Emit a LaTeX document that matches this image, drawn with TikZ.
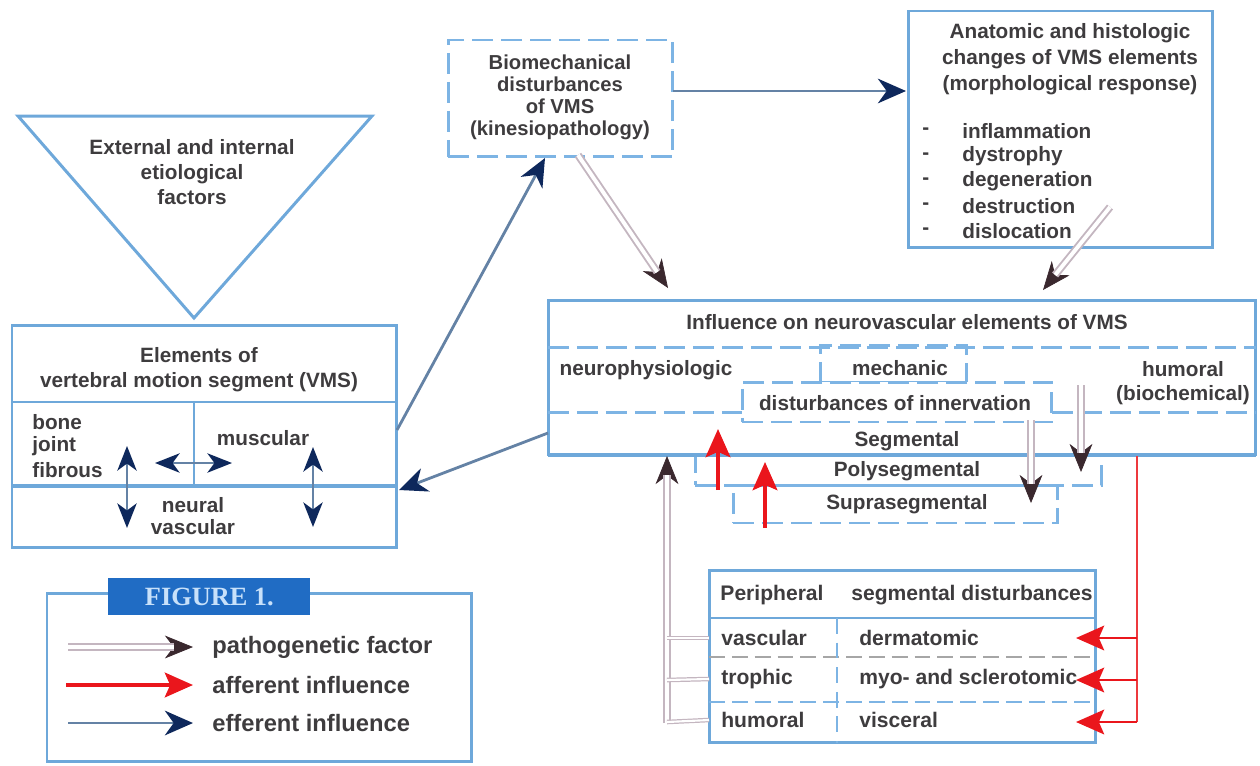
\documentclass[tikz,border=0pt]{standalone}
\usepackage{fontspec}
\setmainfont{Liberation Sans}
\newfontfamily\figserif{Liberation Serif}
\usetikzlibrary{arrows.meta}
\definecolor{boxblue}{RGB}{110,168,218}
\definecolor{dashblue}{RGB}{125,180,228}
\definecolor{txtgray}{RGB}{62,60,62}
\definecolor{effshaft}{RGB}{100,130,165}
\definecolor{navyhead}{RGB}{14,40,92}
\definecolor{affred}{RGB}{234,22,28}
\definecolor{pathline}{RGB}{196,182,192}
\definecolor{pathhead}{RGB}{58,40,46}
\definecolor{figblue}{RGB}{32,108,196}
\definecolor{figtext}{RGB}{200,225,250}
\newcommand\patharrow[2]{\draw[pathtip] (#1) -- (#2); \draw[pathshaft] (#1) -- (#2);}
\begin{document}
\begin{tikzpicture}[x=0.02cm,y=-0.02cm,
  every node/.style={text=txtgray},
  font=\fontsize{11.8}{14}\selectfont\bfseries,
  boxnode/.style={draw=boxblue,line width=1.7pt,anchor=north west,inner sep=0pt,outer sep=0pt},
  dashnode/.style={draw=dashblue,line width=1.7pt,dash pattern=on 12pt off 4.5pt,anchor=north west,inner sep=0pt,outer sep=0pt},
  solidline/.style={draw=boxblue,line width=1.7pt},
  dashline/.style={draw=dashblue,line width=1.7pt,dash pattern=on 12pt off 4.5pt},
  lbl/.style={inner sep=0pt,align=center},
  lleft/.style={inner sep=0pt,anchor=west},
  eff/.style={draw=effshaft,line width=1.6pt,-{Stealth[length=16pt,width=14pt,inset=5pt,color=navyhead]}},
  effboth/.style={draw=effshaft,line width=1.3pt,{Stealth[length=14pt,width=11pt,inset=4pt,color=navyhead]}-{Stealth[length=14pt,width=11pt,inset=4pt,color=navyhead]}},
  aff/.style={draw=affred,line width=2.3pt,-{Stealth[length=16pt,width=14pt,inset=3pt,color=affred]}},
  affline/.style={draw=affred!85,line width=1.6pt},
  pathshaft/.style={draw=pathline,line width=1.1pt,double=white,double distance=2.2pt,shorten >=11pt},
  pathtip/.style={draw=pathhead,line width=0.4pt,-{Stealth[length=16pt,width=13pt,inset=5pt,color=pathhead]}},
  pathbranch/.style={draw=pathline,line width=0.7pt,double=white,double distance=1.2pt},
]
\useasboundingbox (0,0) rectangle (1260,765);

% ---------- triangle: etiological factors
\coordinate (triL) at (18,116);
\coordinate (triR) at (372,116);
\coordinate (triA) at (194,318);
\draw[solidline,line join=miter] (triL) -- (triR) -- (triA) -- cycle;
\node[lbl,font=\fontsize{11.8}{14}\selectfont\bfseries] (etio) at (192,172) {External and internal\\etiological\\factors};

% ---------- VMS box
\node[boxnode,minimum width=7.7cm,minimum height=4.46cm] (vms) at (12,325) {};
\draw[solidline,line width=1.3pt] (12,402) -- (397,402);
\draw[solidline,line width=2pt] (12,486) -- (397,486);
\draw[solidline,line width=1.3pt] (194,402) -- (194,486);
\node[lbl,font=\fontsize{11.8}{14.2}\selectfont\bfseries] (vmstitle) at (199,370) {Elements of\\vertebral motion segment (VMS)};
\node[lleft] (bone) at (32,422) {bone};
\node[lleft] (joint) at (32,446) {joint};
\node[lleft] (fibrous) at (32,470) {fibrous};
\node[lbl] (muscular) at (263,438) {muscular};
\node[lbl,font=\fontsize{11.8}{13}\selectfont\bfseries] (neural) at (193,516) {neural\\vascular};
\coordinate (dvL1) at (127,446); \coordinate (dvL2) at (127,528);
\coordinate (dhL) at (155,463); \coordinate (dhR) at (232,463);
\coordinate (dvR1) at (313,447); \coordinate (dvR2) at (313,527);
\draw[effboth] (dvL1) -- (dvL2);
\draw[effboth] (dhL) -- (dhR);
\draw[effboth] (dvR1) -- (dvR2);

% ---------- Biomechanical box
\node[dashnode,minimum width=4.5cm,minimum height=2.34cm] (bio) at (448,40) {};
\node[lbl,font=\fontsize{11.5}{12.5}\selectfont\bfseries] (biotext) at (560,97) {Biomechanical\\disturbances\\of VMS\\(kinesiopathology)};

% ---------- Anatomic box
\node[boxnode,minimum width=6.1cm,minimum height=4.74cm] (ana) at (908,11) {};
\node[lbl,font=\fontsize{11.8}{14.7}\selectfont\bfseries] (anatitle) at (1070,59) {Anatomic and histologic\\changes of VMS elements\\(morphological response)};
\foreach \t/\yy [count=\i] in {inflammation/131,dystrophy/156,degeneration/181,destruction/206,dislocation/231}{
  \node[lleft] (dash\i) at (922,\yy) {-};
  \node[lleft] (item\i) at (962,\yy) {\t};
}

% ---------- Influence box
\node[boxnode,minimum width=14.16cm,minimum height=3.1cm] (inf) at (548,300) {};
\node[lbl] (inftitle) at (907,322) {Influence on neurovascular elements of VMS};
\draw[dashline] (548,347) -- (1256,347);
\draw[dashline] (548,412) -- (742,412);
\draw[dashline] (1052,412) -- (1256,412);
\node[dashnode,minimum width=2.94cm,minimum height=0.74cm] (mech) at (820,345) {};
\node[dashnode,minimum width=6.2cm,minimum height=0.8cm,fill=white] (dist) at (742,382) {};
\node[lbl] (neuro) at (646,370) {neurophysiologic};
\node[lbl] (mechanic) at (900,368) {mechanic};
\node[lbl,font=\fontsize{11.8}{13.5}\selectfont\bfseries] (humoral) at (1183,383) {humoral\\(biochemical)};
\node[lbl] (disttext) at (895,403) {disturbances of innervation};
\node[lbl] (segm) at (907,441) {Segmental};
\node[dashnode,minimum width=8.14cm,minimum height=0.6cm] (poly) at (695,455) {};
\node[lbl] (polytext) at (907,471) {Polysegmental};
\node[dashnode,minimum width=6.5cm,minimum height=0.76cm] (supra) at (733,485) {};
\node[lbl] (supratext) at (907,504) {Suprasegmental};
\draw[solidline] (548,455) -- (1256,455);

% ---------- Table of peripheral segmental disturbances
\node[boxnode,minimum width=7.74cm,minimum height=3.46cm] (tab) at (709,570) {};
\draw[solidline,line width=1.5pt] (709,618) -- (1096,618);
\draw[draw=gray!70,line width=1.5pt,dash pattern=on 9pt off 4pt] (709,657) -- (1096,657);
\draw[dashline,line width=1.5pt,dash pattern=on 9pt off 4pt] (709,702) -- (1096,702);
\draw[dashline,line width=1.3pt,dash pattern=on 9pt off 5pt] (837,618) -- (837,743);
\node[lbl,font=\fontsize{12}{14}\selectfont\bfseries] (periph) at (772,595) {Peripheral};
\node[lbl,font=\fontsize{12}{14}\selectfont\bfseries] (segdist) at (972,595) {segmental disturbances};
\node[lleft,font=\fontsize{12}{14}\selectfont\bfseries] (r1a) at (721,638) {vascular};
\node[lleft,font=\fontsize{12}{14}\selectfont\bfseries] (r1b) at (859,638) {dermatomic};
\node[lleft,font=\fontsize{12}{14}\selectfont\bfseries] (r2a) at (721,679) {trophic};
\node[lleft,font=\fontsize{12}{14}\selectfont\bfseries] (r2b) at (859,679) {myo- and sclerotomic};
\node[lleft,font=\fontsize{12}{14}\selectfont\bfseries] (r3a) at (721,720) {humoral};
\node[lleft,font=\fontsize{12}{14}\selectfont\bfseries] (r3b) at (859,720) {visceral};

% ---------- efferent arrows between blocks
\coordinate (vmsOut) at (397,430);
\coordinate (bioIn) at (545,158);
\coordinate (bioOut) at (673,91);
\coordinate (anaIn) at (906,91);
\coordinate (infOut) at (548,433);
\coordinate (vmsIn) at (399,490);
\draw[eff] (vmsOut) -- (bioIn);
\draw[eff] (bioOut) -- (anaIn);
\draw[eff] (infOut) -- (vmsIn);

% ---------- pathogenetic arrows
\coordinate (bioP) at (578,155);
\coordinate (infP1) at (668,288);
\coordinate (anaP) at (1110,207);
\coordinate (infP2) at (1043,290);
\coordinate (pd1s) at (1031,420); \coordinate (pd1e) at (1031,503);
\coordinate (pd2s) at (1081,385); \coordinate (pd2e) at (1081,472);
\coordinate (pus) at (667,723); \coordinate (pue) at (667,456);
\patharrow{bioP}{infP1}
\patharrow{anaP}{infP2}
\patharrow{pd1s}{pd1e}
\patharrow{pd2s}{pd2e}
\patharrow{pus}{pue}
\coordinate (br1) at (667,638); \coordinate (br2) at (667,680); \coordinate (br3) at (667,722);
\draw[pathbranch] (br1) -- (r1a.west -| tab.west);
\draw[pathbranch] (br2) -- (r2a.west -| tab.west);
\draw[pathbranch] (br3) -- (r3a.west -| tab.west);

% ---------- afferent arrows
\coordinate (a1s) at (718,490); \coordinate (a1e) at (718,429);
\coordinate (a2s) at (765,528); \coordinate (a2e) at (765,462);
\draw[aff] (a1s) -- (a1e);
\draw[aff] (a2s) -- (a2e);
\coordinate (redTop) at (1137,456);
\coordinate (redJ1) at (1137,638); \coordinate (redJ2) at (1137,680);
\coordinate (t1) at (1076,638); \coordinate (t2) at (1076,680); \coordinate (t3) at (1076,722);
\draw[affline] (redTop) -- (1137,722);
\draw[aff,line width=1.6pt] (redJ1) -- (t1);
\draw[aff,line width=1.6pt] (redJ2) -- (t2);
\draw[aff,line width=1.6pt] (1137,722) -- (t3);

% ---------- legend
\node[boxnode,minimum width=8.5cm,minimum height=3.38cm] (leg) at (47,593) {};
\node[anchor=north west,inner sep=0pt,minimum width=4.04cm,minimum height=0.74cm,fill=figblue,text=figtext,font=\figserif\fontsize{15}{16}\selectfont\bfseries] (fig) at (108,578) {FIGURE 1.};
\coordinate (lp1) at (68,647); \coordinate (lp2) at (193,647);
\coordinate (la1) at (66,685); \coordinate (la2) at (193,685);
\coordinate (le1) at (68,723); \coordinate (le2) at (193,723);
\patharrow{lp1}{lp2}
\draw[aff] (la1) -- (la2);
\draw[eff] (le1) -- (le2);
\node[lleft,font=\fontsize{13.5}{15}\selectfont\bfseries] (lt1) at (212,647) {pathogenetic factor};
\node[lleft,font=\fontsize{13.5}{15}\selectfont\bfseries] (lt2) at (212,685) {afferent influence};
\node[lleft,font=\fontsize{13.5}{15}\selectfont\bfseries] (lt3) at (212,723) {efferent influence};
\end{tikzpicture}
\end{document}
